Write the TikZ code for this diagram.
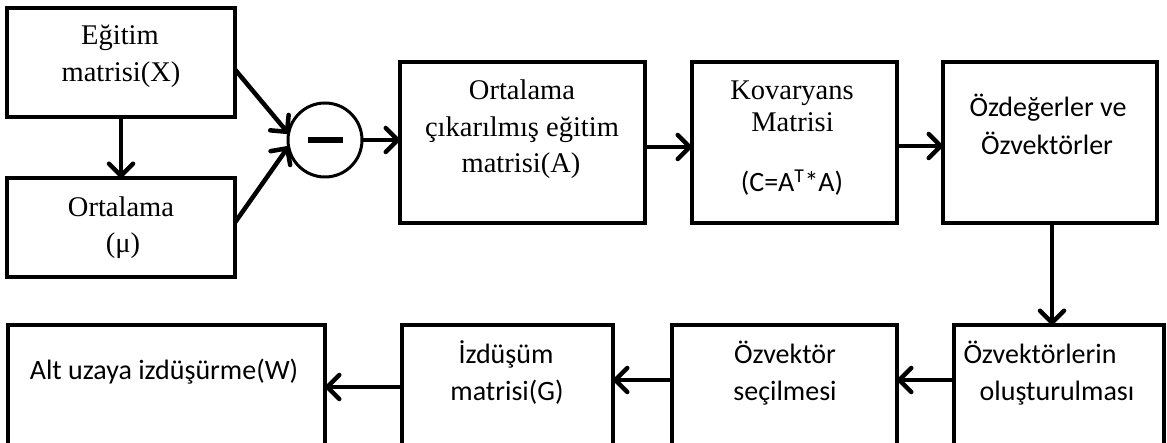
\documentclass[tikz,border=0pt]{standalone}
\usepackage{fontspec}
\setmainfont{Liberation Serif}
\newfontfamily\calibrifont{Carlito}
\usetikzlibrary{arrows.meta,calc}

\begin{document}
\begin{tikzpicture}[x=1pt,y=-1pt,
  blk/.style={draw,line width=4.5pt,inner sep=0pt,outer sep=0pt},
  txt/.style={inner sep=0pt,anchor=base,font=\fontsize{28.5}{34}\selectfont},
  stxt/.style={inner sep=0pt,anchor=base,font=\calibrifont\fontsize{28}{34}\selectfont},
  arr/.style={line width=4.5pt,-{Straight Barb[length=12pt,width=24pt,round]}}]

\clip (0,0) rectangle (1167,443);
\fill[white] (0,0) rectangle (1167,443);

% upper row
\node[blk,minimum width=228pt,minimum height=109pt] (egt) at (121,62.5) {};
\node[blk,minimum width=228pt,minimum height=99pt]  (ort) at (121,227.5) {};
\node[draw,circle,line width=3pt,minimum size=74pt,inner sep=0pt,outer sep=0pt] (sub) at (325,140)
  {\rule[-3pt]{35pt}{6pt}};
\node[blk,minimum width=245pt,minimum height=161pt] (ocm) at (522.5,142.5) {};
\node[blk,minimum width=205pt,minimum height=161pt] (kov) at (794.5,142.5) {};
\node[blk,minimum width=214pt,minimum height=161pt] (ozd) at (1050,142.5) {};

% lower row (runs past the bottom edge)
\node[blk,minimum width=317pt,minimum height=140pt] (alt) at (166.5,395) {};
\node[blk,minimum width=211pt,minimum height=140pt] (izd) at (507.5,395) {};
\node[blk,minimum width=225pt,minimum height=140pt] (sec) at (784.5,395) {};
\node[blk,minimum width=210pt,minimum height=140pt] (olu) at (1059,395) {};

% labels
\node[txt] (egt1) at (120,45) {Eğitim};
\node[txt] (egt2) at (121,82) {matrisi(X)};
\node[txt] (ort1) at (121,217) {Ortalama};
\node[txt] (ort2) at (123,253) {(μ)};
\node[txt] (ocm1) at (522,100) {Ortalama};
\node[txt] (ocm2) at (522,137) {çıkarılmış eğitim};
\node[txt] (ocm3) at (521,173) {matrisi(A)};
\node[txt] (kov1) at (792,100) {Kovaryans};
\node[txt] (kov2) at (792.5,132) {Matrisi};
\node[stxt] (kov3) at (792,192) {(C=A\textsuperscript{T}*A)};
\node[stxt] (ozd1) at (1048,117) {Özdeğerler ve};
\node[stxt] (ozd2) at (1047,155) {Özvektörler};
\node[stxt] (alt1) at (164,380) {Alt uzaya izdüşürme(W)};
\node[stxt] (izd1) at (506,363) {İzdüşüm};
\node[stxt] (izd2) at (507,400) {matrisi(G)};
\node[stxt] (sec1) at (785,363) {Özvektör};
\node[stxt] (sec2) at (785,400) {seçilmesi};
\node[stxt] (olu1) at (1040,363) {Özvektörlerin};
\node[stxt] (olu2) at (1057,400) {oluşturulması};

% connectors
\draw[arr] (egt.south) -- (ort.north);
\draw[arr] ($(egt.east)+(0,7)$) -- (sub.170);
\draw[arr] ($(ort.east)+(0,-5)$) -- (sub.190);
\draw[arr] (sub.east) -- (sub.east -| ocm.west);
\draw[arr] ($(ocm.east)+(0,4.5)$) coordinate (p1) -- (p1 -| kov.west);
\draw[arr] ($(kov.east)+(0,3.5)$) coordinate (p2) -- (p2 -| ozd.west);
\draw[arr] ($(ozd.south)+(2,0)$) coordinate (p3) -- (p3 |- olu.north);
\draw[arr] ($(olu.west)+(0,-15)$) coordinate (p4) -- (p4 -| sec.east);
\draw[arr] ($(sec.west)+(0,-15)$) coordinate (p5) -- (p5 -| izd.east);
\draw[arr] ($(izd.west)+(0,-8)$) coordinate (p6) -- (p6 -| alt.east);
\end{tikzpicture}
\end{document}
